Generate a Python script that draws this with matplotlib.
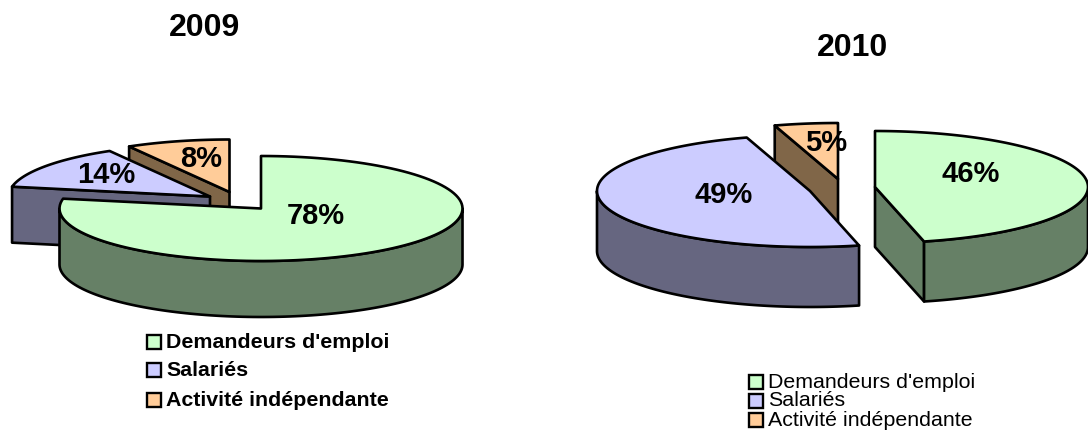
import numpy as np
import matplotlib
matplotlib.use("Agg")
import matplotlib.pyplot as plt
from matplotlib.patches import Polygon, Rectangle

# Data
categories = ["Demandeurs d'emploi", "Salariés", "Activité indépendante"]
titles = ["2009", "2010"]
values_2009 = [78.0, 13.7, 8.3]
values_2010 = [46.3, 48.9, 4.8]

# Styles
top_colors = ["#CCFFCC", "#CCCCFF", "#FFCC99"]
side_colors = ["#668066", "#666680", "#806648"]
font = "Liberation Sans"
LW = 1.9

fig = plt.figure(figsize=(10.88, 4.30), dpi=100)
ax = fig.add_axes([0, 0, 1, 1])
ax.set_xlim(0, 1088)
ax.set_ylim(430, 0)
ax.axis("off")


def rim(ap, rx, ry, a0, a1, n=120):
    t = np.radians(np.linspace(a0, a1, n))
    return np.c_[ap[0] + rx * np.sin(t), ap[1] - ry * np.cos(t)]


def wedge(values, i, ap, rx, ry, h, z):
    total = sum(values)
    a0 = 360 * sum(values[:i]) / total
    a1 = 360 * sum(values[:i + 1]) / total
    ap = np.array(ap, float)
    drop = np.array([0, h])
    kw = dict(edgecolor="black", lw=LW, joinstyle="round", zorder=z)

    # radial cut faces visible from the front
    for a, sgn in ((a0, -1), (a1, 1)):
        r = np.radians(a)
        normal_up = -np.sin(r) * sgn
        if normal_up < -1e-6:
            p = rim(ap, rx, ry, a, a, 1)[0]
            ax.add_patch(Polygon([ap, p, p + drop, ap + drop], closed=True,
                                 facecolor=side_colors[i], **kw))
    # outer wall on the front half
    lo, hi = max(a0, 90), min(a1, 270)
    if hi > lo:
        arc = rim(ap, rx, ry, lo, hi)
        ax.add_patch(Polygon(np.vstack([arc, (arc + drop)[::-1]]), closed=True,
                             facecolor=side_colors[i], **kw))
    # top face
    ax.add_patch(Polygon(np.vstack([[ap], rim(ap, rx, ry, a0, a1)]), closed=True,
                         facecolor=top_colors[i], **kw))


def legend(x, ys, size, weight, box, gap):
    for c, y, col in zip(categories, ys, top_colors):
        ax.add_patch(Rectangle((x, y - box / 2), box, box, facecolor=col,
                               edgecolor="black", lw=1.7, zorder=20))
        ax.text(x + box + gap, y, c, fontsize=size, fontweight=weight, family=font,
                va="center", ha="left", color="black", zorder=20)


# 2009 chart: slice index, apex, drawing order
for i, ap, z in ((2, (229.5, 192), 1), (1, (210, 196.5), 2), (0, (261, 208.5), 3)):
    wedge(values_2009, i, ap, 201.5, 52.5, 56, z)

# 2010 chart
for i, ap, z in ((2, (838, 179), 1), (1, (810, 191), 2), (0, (875, 187), 3)):
    wedge(values_2010, i, ap, 213, 56, 60, z)

lab = dict(fontsize=21, fontweight="bold", family=font, ha="center", va="center",
           color="black", zorder=10)
for v, xy in zip(values_2009, [(316, 216), (106, 175), (201, 159)]):
    ax.text(*xy, f"{v:.0f}%", **lab)
for v, xy in zip(values_2010, [(971, 174), (724, 195), (826, 143)]):
    ax.text(*xy, f"{v:.0f}%", **lab)

ax.text(205, 27.5, titles[0], fontsize=23, fontweight="bold", family=font,
        ha="center", va="center", color="black")
ax.text(852, 47.5, titles[1], fontsize=23, fontweight="bold", family=font,
        ha="center", va="center", color="black")

legend(147, [342, 370, 400], 15.4, "bold", 14, 5)
legend(749, [382, 401, 420], 15.4, "normal", 14, 5)

fig.savefig("out.png", dpi=100)
